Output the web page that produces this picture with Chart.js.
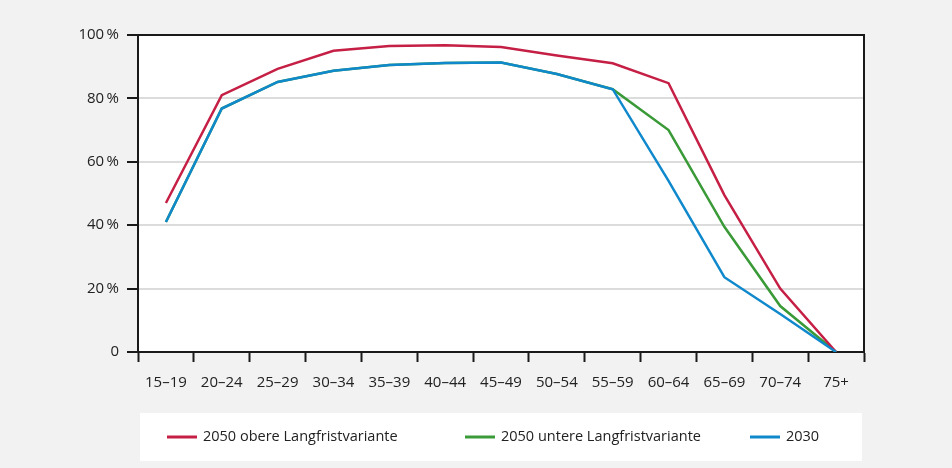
<!DOCTYPE html>
<html>
<head>
<meta charset="utf-8">
<script src="https://cdn.jsdelivr.net/npm/chart.js@4/dist/chart.umd.min.js"></script>
<style>
  html, body { margin: 0; padding: 0; background: #f2f2f2; }
  #wrap { width: 952px; height: 468px; }
</style>
</head>
<body>
<div id="wrap"><canvas id="chart" width="952" height="468"></canvas></div>
<script>
const ageGroups = ['15–19', '20–24', '25–29', '30–34', '35–39', '40–44', '45–49',
  '50–54', '55–59', '60–64', '65–69', '70–74', '75+'];
const obere2050 = [47, 81, 89.3, 95, 96.5, 96.8, 96.2, 93.5, 91.1, 84.8, 49.5, 20, 0];
const untere2050 = [41, 76.8, 85.2, 88.7, 90.5, 91.2, 91.3, 87.7, 82.9, 70, 39.5, 14.5, 0];
const year2030 = [41, 76.8, 85.2, 88.7, 90.5, 91.2, 91.3, 87.7, 82.9, 54, 23.6, 12, 0];
const yTicks = [0, 20, 40, 60, 80, 100];

const FONT = "'Open Sans', 'Noto Sans', sans-serif";

// plot background, frame and the legend box at the bottom
const frame = {
  id: 'frame',
  beforeDraw(chart) {
    const { ctx, chartArea: a } = chart;
    ctx.save();
    ctx.fillStyle = '#ffffff';
    ctx.fillRect(a.left, a.top, a.right - a.left, a.bottom - a.top);
    ctx.fillRect(140, 413, 722, 48);
    ctx.restore();
  },
  afterDatasetsDraw(chart) {
    const { ctx, chartArea: a } = chart;
    ctx.save();
    ctx.strokeStyle = '#1a1a1a';
    ctx.lineWidth = 2;
    ctx.beginPath();
    ctx.moveTo(a.left, a.top);
    ctx.lineTo(a.right, a.top);
    ctx.lineTo(a.right, a.bottom);
    ctx.stroke();
    ctx.restore();
  },
  afterDraw(chart) {
    const { ctx } = chart;
    const xs = [167, 465, 750];
    ctx.save();
    ctx.font = '14.5px ' + FONT;
    ctx.textBaseline = 'middle';
    chart.data.datasets.forEach((ds, i) => {
      ctx.strokeStyle = ds.borderColor;
      ctx.lineWidth = 3;
      ctx.beginPath();
      ctx.moveTo(xs[i], 437);
      ctx.lineTo(xs[i] + 30, 437);
      ctx.stroke();
      ctx.fillStyle = '#222';
      ctx.fillText(ds.label, xs[i] + 36, 437);
    });
    ctx.restore();
  }
};

new Chart(document.getElementById('chart'), {
  type: 'line',
  data: {
    labels: ageGroups,
    datasets: [
      { label: '2050 obere Langfristvariante', data: obere2050, borderColor: '#c51f45', order: 1 },
      { label: '2050 untere Langfristvariante', data: untere2050, borderColor: '#3a9a38', order: 2 },
      { label: '2030', data: year2030, borderColor: '#1089cc', order: 0 }
    ]
  },
  options: {
    responsive: false,
    animation: false,
    layout: { padding: { left: 0, top: 35, right: 88, bottom: 0 } },
    elements: {
      line: { borderWidth: 2.5, tension: 0 },
      point: { radius: 0 }
    },
    plugins: {
      legend: { display: false },
      tooltip: { enabled: false }
    },
    scales: {
      x: {
        offset: true,
        afterFit(scale) { scale.height = 116; },
        grid: { drawOnChartArea: false, tickLength: 10, tickColor: '#1a1a1a', tickWidth: 2, offset: true },
        border: { color: '#1a1a1a', width: 2 },
        ticks: { color: '#222', padding: 12, font: { family: FONT, size: 15 }, maxRotation: 0, autoSkip: false }
      },
      y: {
        min: 0,
        max: 100,
        afterFit(scale) { scale.width = 138; },
        afterBuildTicks(scale) { scale.ticks = yTicks.map(v => ({ value: v })); },
        grid: { color: '#dcdcdc', lineWidth: 2, tickLength: 11, tickColor: '#1a1a1a', tickWidth: 2 },
        border: { color: '#1a1a1a', width: 2 },
        ticks: {
          color: '#222',
          padding: 8,
          font: { family: FONT, size: 15 },
          callback: v => v === 0 ? '0' : v + '\u2009%'
        }
      }
    }
  },
  plugins: [frame]
});
</script>
</body>
</html>
